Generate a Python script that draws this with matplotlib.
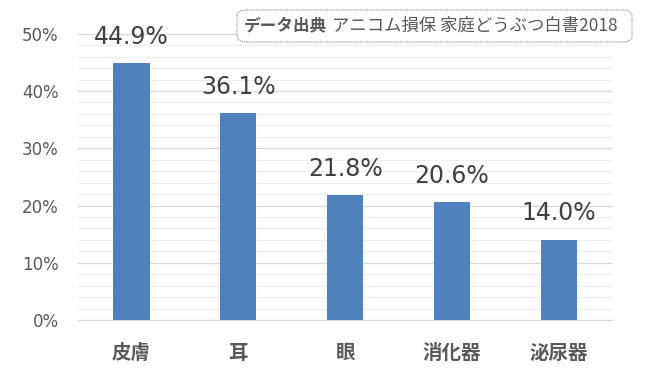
import matplotlib.pyplot as plt
from matplotlib.patches import FancyBboxPatch
from matplotlib.ticker import MultipleLocator, FuncFormatter

plt.rcParams['font.family'] = ['Noto Sans CJK JP', 'DejaVu Sans']

categories = ["皮膚", "耳", "眼", "消化器", "泌尿器"]
values = [44.9, 36.1, 21.8, 20.6, 14.0]
source_bold = "データ出典"
source_text = "アニコム損保 家庭どうぶつ白書2018"

fig = plt.figure(figsize=(6.5, 3.8), dpi=100)
ax = fig.add_axes([0.12, 0.158, 0.822, 0.753])

x = range(len(categories))
ax.bar(x, values, width=0.34, color="#4F81BD", zorder=3)

for xi, v in zip(x, values):
    ax.annotate(f"{v:.1f}%", (xi, v), xytext=(0, 19), textcoords="offset points",
                ha="center", va="center", fontsize=17, color="#404040",
                family=["DejaVu Sans"])

ax.set_xlim(-0.5, len(categories) - 0.5)
ax.set_ylim(0, 50)
ax.yaxis.set_major_locator(MultipleLocator(10))
ax.yaxis.set_minor_locator(MultipleLocator(2))
ax.yaxis.set_major_formatter(FuncFormatter(lambda v, p: f"{v:.0f}%"))
ax.grid(axis="y", which="major", color="#D9D9D9", linewidth=0.9, zorder=0)
ax.grid(axis="y", which="minor", color="#EEEEEE", linewidth=0.8, zorder=0)

ax.set_xticks(list(x))
ax.set_xticklabels(categories, fontsize=14, fontweight="bold", color="#595959")
ax.tick_params(axis="x", length=0, pad=17)
ax.tick_params(axis="y", which="both", length=0, labelsize=12, labelcolor="#595959", pad=14)
for lbl in ax.get_yticklabels():
    lbl.set_family(["DejaVu Sans"])

for s in ["top", "right", "left"]:
    ax.spines[s].set_visible(False)
ax.spines["bottom"].set_color("#D9D9D9")

# source box
box = FancyBboxPatch((237 / 650, 1 - 42 / 380), 395 / 650, 32 / 380,
                     boxstyle="round,pad=0,rounding_size=0.015",
                     transform=fig.transFigure, facecolor="white",
                     edgecolor="#888888", linestyle=(0, (1, 1)), linewidth=0.8)
fig.patches.append(box)
fig.text(244 / 650, 1 - 26 / 380, source_bold, fontsize=12, fontweight="bold",
         color="#595959", va="center", ha="left")
fig.text(332 / 650, 1 - 26 / 380, source_text, fontsize=12.5,
         color="#595959", va="center", ha="left")

fig.savefig("out.png", dpi=100)
